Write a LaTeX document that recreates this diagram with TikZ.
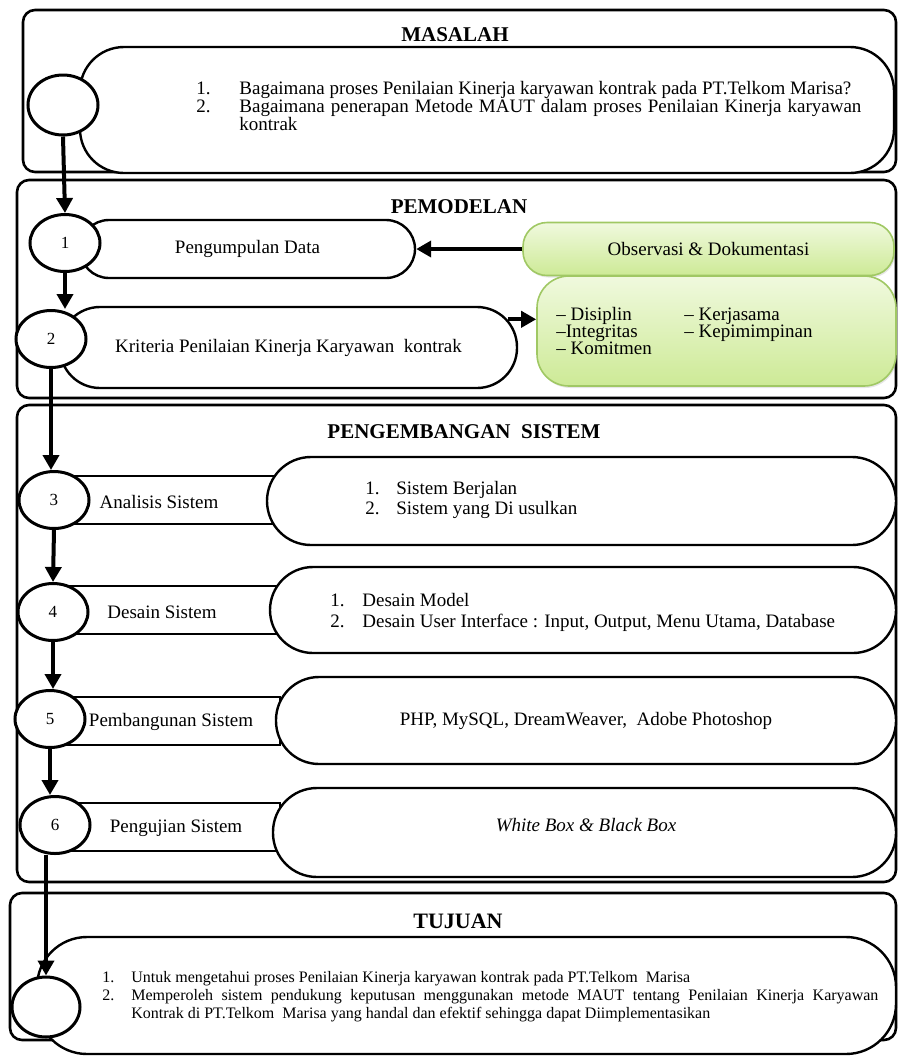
\documentclass[tikz,border=0pt]{standalone}
\usepackage{fontspec}
\setmainfont{Liberation Serif}
\usetikzlibrary{positioning,arrows.meta,shapes.geometric,shadows}

\definecolor{greenfill}{RGB}{205,234,150}
\definecolor{greentop}{RGB}{240,249,222}
\definecolor{greenedge}{RGB}{160,200,100}

\begin{document}
\begin{tikzpicture}[x=0.5pt,y=-0.5pt,>={Triangle[length=7.5pt,width=8pt]},
	section/.style={draw,line width=1.3pt,rounded corners=6pt},
	pill/.style={draw,fill=white,line width=1.2pt},
	strip/.style={draw,fill=white,line width=1.2pt,minimum height=24pt,minimum width=113pt},
	stepnum/.style={draw,ellipse,fill=white,line width=1.5pt,minimum width=35pt,
		minimum height=28.5pt,inner sep=0pt,font=\fontsize{8.5}{10}\selectfont},
	greenbox/.style={draw=greenedge,line width=0.8pt,top color=greentop,bottom color=greenfill,
		drop shadow={opacity=0.2,shadow xshift=0.6pt,shadow yshift=-1pt}},
	title/.style={font=\fontsize{10.5}{12}\selectfont\bfseries},
	txt/.style={font=\fontsize{9.5}{11}\selectfont},
	items/.style={align=left,anchor=west,inner sep=0pt},
	flow/.style={->,line width=2pt}]
	\useasboundingbox (0,0) rectangle (901,1057);

	\node[section,minimum width=436.5pt,minimum height=81pt] (masalah) at (459.5,91) {};
	\node[section,minimum width=439.5pt,minimum height=109pt] (pemodelan) at (456.5,289) {};
	\node[section,minimum width=439.5pt,minimum height=238.5pt] (pengembangan) at (456.5,643.5) {};
	\node[section,minimum width=443pt,minimum height=73.5pt] (tujuan) at (453,966.5) {};

	\node[title] (tmasalah) at (455,35) {MASALAH};
	\node[pill,rounded corners=22pt,minimum width=407pt,minimum height=63pt] 
		  (pmasalah) at (487,110) {};
	\node[items,font=\fontsize{9.5}{9}\selectfont] 
		  (lmasalah) at (196,106) {\makebox[21.5pt][l]{1.}Bagaimana proses Penilaian Kinerja karyawan kontrak pada PT.Telkom Marisa?\\
		  \makebox[21.5pt][l]{2.}\makebox[311pt][s]{Bagaimana penerapan Metode MAUT dalam proses Penilaian Kinerja karyawan}\\
		  \hspace*{21.5pt}kontrak};
	\node[stepnum,minimum height=30pt] (c0) at (63,105) {};

	\node[title] (tpemodelan) at (459,207) {PEMODELAN};
	\node[pill,txt,rounded corners=14.5pt,minimum width=167.5pt,minimum height=29pt] 
		  (pdata) at (247.5,249) {Pengumpulan Data};
	\node[greenbox,txt,rounded corners=12pt,minimum width=185.5pt,minimum height=26.5pt] 
		  (obs) at (708.5,249) {Observasi \& Dokumentasi};
	\node[stepnum] (c1) at (65,243) {1};
	\node[pill,txt,rounded corners=20pt,minimum width=228.5pt,minimum height=40.5pt] 
		  (pkriteria) at (288.5,347.5) {Kriteria Penilaian Kinerja Karyawan\ \ kontrak};
	\node[greenbox,rounded corners=16pt,minimum width=179.5pt,minimum height=55pt] 
		  (kriteria) at (716.5,331) {};
	\node[items,font=\fontsize{9.5}{8.5}\selectfont] 
		  (lkriteria) at (556,331) {\makebox[64pt][l]{-- Disiplin}-- Kerjasama\\
		  \makebox[64pt][l]{--Integritas}-- Kepimimpinan\\
		  -- Komitmen};
	\node[stepnum] (c2) at (51,339) {2};

	\node[title] (tpengembangan) at (464,432) {PENGEMBANGAN\ \ SISTEM};

	\node[strip] (s3) at (167,500) {};
	\node[txt] (t3) at (159,502) {Analisis Sistem};
	\node[pill,rounded corners=22pt,minimum width=314.5pt,minimum height=44pt] (p3) at (581.5,501) {};
	\node[items,font=\fontsize{9.5}{10}\selectfont] 
		  (l3) at (365,500) {\makebox[15.5pt][l]{1.}Sistem Berjalan\\
		  \makebox[15.5pt][l]{2.}Sistem yang Di usulkan};
	\node[stepnum] (c3) at (54,500) {3};

	\node[strip] (s4) at (167,610) {};
	\node[txt] (t4) at (162,612) {Desain Sistem};
	\node[pill,rounded corners=21.5pt,minimum width=313pt,minimum height=43pt] (p4) at (583,610) {};
	\node[items,font=\fontsize{9.5}{10.5}\selectfont] 
		  (l4) at (330,612) {\makebox[16pt][l]{1.}Desain Model\\
		  \makebox[16pt][l]{2.}Desain User Interface : Input, Output, Menu Utama, Database};
	\node[stepnum] (c4) at (53,612) {4};

	\node[strip] (s5) at (167,721) {};
	\node[txt] (t5) at (171,722) {Pembangunan Sistem};
	\node[pill,txt,rounded corners=21.5pt,minimum width=310pt,minimum height=43.5pt] 
		  (p5) at (586,720.5) {PHP, MySQL, DreamWeaver,\ \ Adobe Photoshop};
	\node[stepnum] (c5) at (50,719) {5};

	\node[strip] (s6) at (167,827) {};
	\node[txt] (t6) at (176,828) {Pengujian Sistem};
	\node[pill,rounded corners=22pt,minimum width=311.5pt,minimum height=44.5pt] (p6) at (584.5,832.5) {};
	\node[txt,font=\fontsize{9.5}{11}\selectfont\itshape] (l6) at (586,825) {White Box \& Black Box};
	\node[stepnum] (c6) at (55,825) {6};

	\node[title,font=\fontsize{11}{13}\selectfont\bfseries] (ttujuan) at (458,921) {TUJUAN};
	\node[pill,rounded corners=25pt,minimum width=429.5pt,minimum height=58.5pt] 
		  (ptujuan) at (466.5,995.5) {};
	\node[items,font=\fontsize{8}{9}\selectfont] 
		  (ltujuan) at (102,997) {\makebox[14.5pt][l]{1.}Untuk mengetahui proses Penilaian Kinerja karyawan kontrak pada PT.Telkom\ \ Marisa\\
		  \makebox[14.5pt][l]{2.}\makebox[373.5pt][s]{Memperoleh sistem pendukung keputusan menggunakan metode MAUT tentang Penilaian Kinerja Karyawan}\\
		  \hspace*{14.5pt}Kontrak di PT.Telkom\ \ Marisa yang handal dan efektif sehingga dapat Diimplementasikan};
	\node[stepnum,minimum width=34pt,minimum height=30pt] (c7) at (46,1007) {};

	\draw[flow] (c0.south) -- (c1.north);
	\draw[flow] (obs.west) -- (obs.west -| pdata.east);
	\draw[flow] (c1.south) -- (c1.south |- c2.north);
	\draw[flow] ([xshift=-5pt]pkriteria.7) -- (pkriteria.7 -| kriteria.west);
	\draw[flow] (c2.south) -- (c2.south |- c3.north);
	\draw[flow] (c3.south) -- (c4.north);
	\draw[flow] (c4.south) -- (c4.south |- c5.north);
	\draw[flow] (c5.south) -- (c5.south |- c6.north);
	\draw[flow] (c6.south -| c7.north) -- (c7.north);
\end{tikzpicture}
\end{document}
